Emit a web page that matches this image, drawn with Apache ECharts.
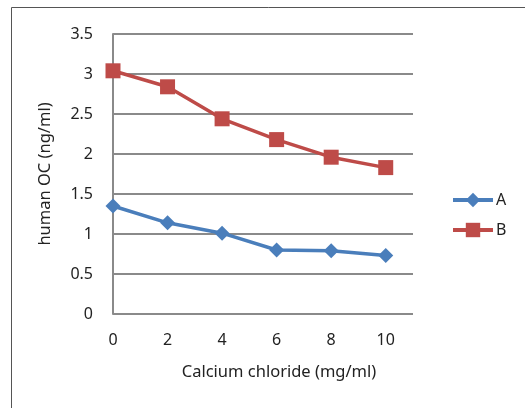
<!DOCTYPE html>
<html><head><meta charset="utf-8">
<script src="https://cdn.jsdelivr.net/npm/echarts@6/dist/echarts.min.js"></script>
<style>html,body{margin:0;padding:0;background:#fff}#c{width:525px;height:408px}</style>
</head><body><div id="c"></div>
<script>
var xValues = [0, 2, 4, 6, 8, 10];
var seriesA = [1.35, 1.14, 1.01, 0.80, 0.79, 0.73];
var seriesB = [3.04, 2.84, 2.44, 2.18, 1.96, 1.83];
var seriesNames = ['A', 'B'];
var xTitle = 'Calcium chloride (mg/ml)';
var yTitle = 'human OC (ng/ml)';

function pairs(vals){ return xValues.map(function(x,i){ return [x, vals[i]]; }); }
var font = 'Noto Sans';
var chart = echarts.init(document.getElementById('c'), null, {renderer:'canvas'});
chart.setOption({
  animation:false,
  graphic:[{type:'rect', shape:{x:11.5, y:7.5, width:600, height:500}, style:{fill:'none', stroke:'#555', lineWidth:1}, z:-1}],
  grid:{left:113, right:112, top:34, bottom:94},
  legend:{orient:'vertical', left:446, top:187, itemWidth:40, itemHeight:18, itemGap:14,
    lineStyle:{width:4},
    textStyle:{fontFamily:font, fontSize:16, color:'#222', padding:[0,0,0,-2]},
    data:seriesNames},
  xAxis:{type:'value', min:0, max:11, interval:2,
    axisLine:{show:false}, axisTick:{show:false}, splitLine:{show:false},
    axisLabel:{fontFamily:font, fontSize:16, color:'#222', margin:18,
      formatter:function(v){ return v<=10 ? String(v) : ''; }},
    name:xTitle, nameLocation:'middle', nameGap:50,
    nameTextStyle:{fontFamily:font, fontSize:16.5, color:'#222', padding:[0,0,0,32]}},
  yAxis:{type:'value', min:0, max:3.5, interval:0.5,
    axisLine:{show:true, lineStyle:{color:'#8a8a8a', width:2}}, axisTick:{show:false},
    splitLine:{show:true, lineStyle:{color:'#8a8a8a', width:2}},
    axisLabel:{fontFamily:font, fontSize:16, color:'#222', margin:20},
    name:yTitle, nameLocation:'middle', nameGap:59,
    nameTextStyle:{fontFamily:font, fontSize:16.5, color:'#222'}},
  series:[
    {name:seriesNames[0], type:'line', data:pairs(seriesA), symbol:'diamond', symbolSize:15,
     lineStyle:{color:'#4A7EBB', width:3.5}, itemStyle:{color:'#4A7EBB'}},
    {name:seriesNames[1], type:'line', data:pairs(seriesB), symbol:'rect', symbolSize:15,
     lineStyle:{color:'#BE4B48', width:3.5}, itemStyle:{color:'#BE4B48'}}
  ]
});
</script></body></html>
